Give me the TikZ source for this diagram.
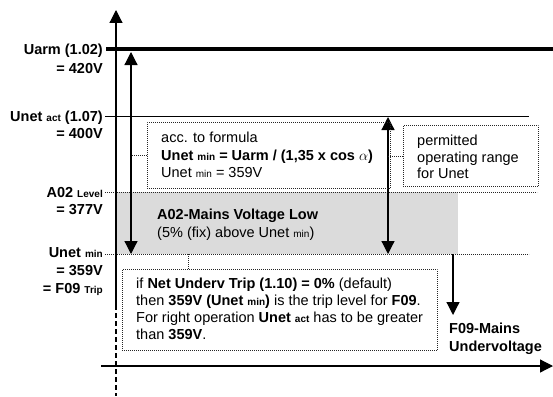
\documentclass[tikz,border=0pt]{standalone}
\usepackage{fontspec}
\setmainfont{Liberation Sans}
\usetikzlibrary{arrows.meta}
\newcommand{\lowtxt}[1]{{\fontsize{10}{12}\selectfont #1}}
\begin{document}
\begin{tikzpicture}[x=1pt,y=-1pt,
  txt/.style={inner sep=0pt, anchor=base west, font=\fontsize{14.5}{17}\selectfont},
  btxt/.style={txt, font=\fontsize{14.5}{17}\selectfont\bfseries},
  lbl/.style={inner sep=0pt, anchor=base east, font=\fontsize{14.5}{17}\selectfont\bfseries},
  dotline/.style={line width=0.8pt, dash pattern=on 0.8pt off 1.2pt, black!85},
  dotbox/.style={draw, dotline, inner sep=0pt, anchor=north west},
  bigtip/.style={-{Triangle[width=13pt,length=13pt]}},
  dbltip/.style={{Triangle[width=13pt,length=13pt]}-{Triangle[width=13pt,length=13pt]}},
  axisline/.style={line width=1.2pt},
]
\useasboundingbox (0,0) rectangle (553,396);

% gray band
\fill[gray!28] (116,192) rectangle (458,254);

% left labels
\node[lbl] (uarm)  at (103,55)  {Uarm (1.02)};
\node[lbl] (uarmv) at (103,73)  {= 420V};
\node[lbl] (uact)  at (103,121) {Unet \lowtxt{act} (1.07)};
\node[lbl] (uactv) at (103,138) {= 400V};
\node[lbl] (a02)   at (103,197) {A02 \lowtxt{Level}};
\node[lbl] (a02v)  at (103,214) {= 377V};
\node[lbl] (umin)  at (103,257) {Unet \lowtxt{min}};
\node[lbl] (uminv) at (103,275) {= 359V};
\node[lbl] (f09t)  at (103,293) {= F09 \lowtxt{Trip}};

% level lines
\coordinate (uarmL) at (106,49);  \coordinate (uarmR) at (553,49);
\coordinate (uactL) at (105,116); \coordinate (uactR) at (529,116);
\coordinate (a02L)  at (105,192); \coordinate (a02R)  at (537,192);
\coordinate (uminL) at (105,254); \coordinate (uminR) at (529,254);
\draw[line width=4.5pt] (uarmL) -- (uarmR);
\draw[line width=1pt] (uactL) -- (uactR);
\draw[dotline] (a02L) -- (a02R);
\draw[dotline] (uminL) -- (uminR);

% axes
\coordinate (yaxB) at (116,305); \coordinate (yaxT) at (116,10);
\coordinate (yaxD) at (116,396);
\coordinate (xaxL) at (101,366); \coordinate (xaxR) at (553,366);
\draw[axisline, bigtip] (yaxB) -- (yaxT);
\draw[axisline, dash pattern=on 5pt off 3pt] (yaxB) -- (yaxD);
\draw[axisline, bigtip] (xaxL) -- (xaxR);

% double arrows
\coordinate (a1T) at (131,52);  \coordinate (a1B) at (131,254);
\coordinate (a2T) at (388,117); \coordinate (a2B) at (388,254);
\draw[axisline, dbltip] (a1T) -- (a1B);
\draw[axisline, dbltip] (a2T) -- (a2B);

% F09 arrow
\coordinate (f09T) at (453,254); \coordinate (f09B) at (453,315);
\draw[axisline, bigtip] (f09T) -- (f09B);

% formula box
\node[dotbox, minimum width=243pt, minimum height=66pt] (fbox) at (147,122) {};
\draw[dotline] (fbox.west) -- (fbox.west -| a1T);
\node[txt]  (f1) at (161,142) {acc. to formula};
\node[btxt] (f2) at (161,160) {Unet \lowtxt{min} = Uarm / (1,35 x cos $\alpha$)};
\node[txt]  (f3) at (161,177) {Unet \lowtxt{min} = 359V};

% permitted box
\node[dotbox, minimum width=135pt, minimum height=61pt] (pbox) at (403,125) {};
\draw[dotline] (pbox.west) -- (pbox.west -| a2T);
\node[txt] (p1) at (417,145) {permitted};
\node[txt] (p2) at (417,162) {operating range};
\node[txt] (p3) at (417,178) {for Unet};

% A02 text
\node[btxt] (m1) at (157,219) {A02-Mains Voltage Low};
\node[txt]  (m2) at (157,237) {(5\% (fix) above Unet \lowtxt{min})};

% bottom box
\node[dotbox, minimum width=315pt, minimum height=81pt] (bbox) at (122,269) {};
\coordinate (bc) at (188,254);
\draw[dotline] (bc) -- (bc |- bbox.north);
\node[txt] (b1) at (136,288) {if \textbf{Net Underv Trip (1.10) = 0\%} (default)};
\node[txt] (b2) at (136,305) {then \textbf{359V (Unet \lowtxt{min})} is the trip level for \textbf{F09}.};
\node[txt] (b3) at (136,322) {For right operation \textbf{Unet \lowtxt{act}} has to be greater};
\node[txt] (b4) at (136,339) {than \textbf{359V}.};

% F09 text
\node[btxt] (e1) at (449,333) {F09-Mains};
\node[btxt] (e2) at (449,351) {Undervoltage};
\end{tikzpicture}
\end{document}
